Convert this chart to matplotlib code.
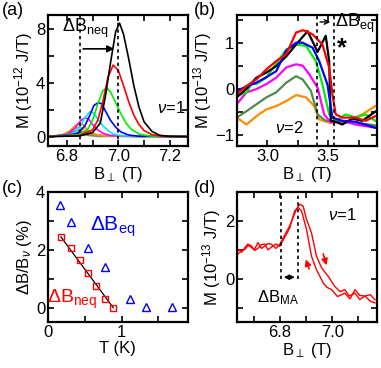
import numpy as np
import matplotlib
matplotlib.use("Agg")
import matplotlib.pyplot as plt
from matplotlib.ticker import MultipleLocator

plt.rcParams['font.family'] = ['Liberation Sans', 'DejaVu Sans']
plt.rcParams['mathtext.fontset'] = 'custom'
plt.rcParams['mathtext.rm'] = 'Liberation Sans'
plt.rcParams['mathtext.it'] = 'Liberation Sans:italic'
plt.rcParams['font.size'] = 12

# ---------- panel (a) data: M vs B, nu=1, several temperatures
a_black_B = [6.73, 6.85, 6.90, 6.93, 6.95, 6.97, 6.99, 7.005, 7.02, 7.04, 7.06, 7.08, 7.10, 7.13, 7.16, 7.20, 7.27]
a_black_M = [0.0, 0.05, 0.3, 1.0, 3.0, 5.5, 7.8, 8.4, 7.6, 5.8, 3.8, 2.2, 1.1, 0.4, 0.1, 0.02, 0.0]
a_red_B = [6.73, 6.85, 6.90, 6.92, 6.94, 6.96, 6.98, 7.00, 7.02, 7.04, 7.06, 7.08, 7.10, 7.13, 7.17, 7.27]
a_red_M = [0.0, 0.1, 0.5, 1.2, 2.6, 4.4, 5.3, 4.9, 3.8, 2.6, 1.6, 0.9, 0.45, 0.15, 0.03, 0.0]
a_green_B = [6.73, 6.85, 6.88, 6.90, 6.92, 6.94, 6.955, 6.97, 6.99, 7.01, 7.03, 7.05, 7.08, 7.12, 7.27]
a_green_M = [0.0, 0.15, 0.5, 1.2, 2.4, 3.4, 3.6, 3.3, 2.5, 1.7, 1.0, 0.55, 0.2, 0.05, 0.0]
a_blue_B = [6.73, 6.84, 6.87, 6.89, 6.905, 6.92, 6.935, 6.95, 6.97, 6.99, 7.01, 7.04, 7.08, 7.27]
a_blue_M = [0.0, 0.2, 0.8, 1.6, 2.3, 2.5, 2.45, 1.9, 1.2, 0.7, 0.35, 0.12, 0.03, 0.0]
a_cyan_B = [6.73, 6.82, 6.85, 6.87, 6.89, 6.905, 6.92, 6.94, 6.96, 6.98, 7.01, 7.27]
a_cyan_M = [0.0, 0.2, 0.7, 1.4, 1.85, 1.75, 1.3, 0.8, 0.45, 0.2, 0.07, 0.0]
a_mag_B = [6.73, 6.80, 6.83, 6.855, 6.87, 6.885, 6.90, 6.92, 6.94, 6.97, 7.27]
a_mag_M = [0.0, 0.15, 0.6, 1.2, 1.4, 1.3, 0.9, 0.5, 0.25, 0.08, 0.0]
a_orange_B = [6.73, 6.78, 6.81, 6.835, 6.85, 6.865, 6.88, 6.90, 6.93, 7.27]
a_orange_M = [0.0, 0.1, 0.4, 0.85, 1.0, 0.85, 0.5, 0.25, 0.08, 0.0]
a_khaki_B = [6.73, 6.78, 6.81, 6.83, 6.845, 6.86, 6.88, 6.91, 6.95, 7.27]
a_khaki_M = [0.0, 0.1, 0.35, 0.6, 0.7, 0.6, 0.35, 0.15, 0.05, 0.0]
a_olive_B = [6.73, 6.78, 6.81, 6.835, 6.85, 6.87, 6.90, 6.95, 7.27]
a_olive_M = [0.0, 0.1, 0.3, 0.45, 0.45, 0.3, 0.15, 0.05, 0.0]
a_grey_B = [6.73, 6.76, 6.79, 6.82, 6.84, 6.86, 6.89, 6.93, 7.00, 7.08, 7.15, 7.22, 7.27]
a_grey_M = [0.02, 0.05, 0.1, 0.22, 0.28, 0.2, 0.1, 0.03, 0.05, 0.0, 0.04, 0.01, 0.03]

# ---------- panel (b) data: M vs B, nu=2
b_red_B = [2.747, 2.829, 2.91, 2.992, 3.073, 3.155, 3.236, 3.29, 3.318, 3.372, 3.453, 3.508, 3.535, 3.562, 3.616, 3.725, 3.807, 3.888]
b_red_M = [-0.12, 0.06, 0.2, 0.42, 0.6, 0.75, 1.22, 1.27, 1.25, 1.18, 0.96, 0.46, -0.12, -0.56, -0.63, -0.63, -0.7, -0.6]
b_black_B = [2.747, 2.829, 2.91, 2.992, 3.073, 3.155, 3.236, 3.331, 3.413, 3.48, 3.508, 3.521, 3.562, 3.616, 3.70, 3.78, 3.888]
b_black_M = [-0.19, 0.0, 0.24, 0.35, 0.49, 0.7, 0.96, 1.25, 0.8, 1.15, 0.6, -0.7, -0.72, -0.78, -0.65, -0.7, -0.5]
b_blue_B = [2.747, 2.829, 2.91, 2.992, 3.073, 3.155, 3.236, 3.29, 3.372, 3.426, 3.494, 3.535, 3.616, 3.725, 3.888]
b_blue_M = [-0.05, 0.05, 0.13, 0.25, 0.38, 0.83, 1.0, 1.0, 0.89, 0.6, 0.09, -0.63, -0.7, -0.72, -0.85]
b_green_B = [2.747, 2.829, 2.869, 2.91, 2.992, 3.073, 3.155, 3.236, 3.318, 3.399, 3.453, 3.508, 3.562, 3.644, 3.725, 3.807, 3.888]
b_green_M = [-0.16, -0.08, 0.1, 0.1, 0.24, 0.55, 0.85, 0.96, 0.93, 0.6, 0.09, -0.56, -0.7, -0.56, -0.63, -0.56, -0.7]
b_mag_B = [2.747, 2.829, 2.91, 2.992, 3.073, 3.155, 3.236, 3.29, 3.345, 3.413, 3.467, 3.521, 3.616, 3.725, 3.888]
b_mag_M = [-0.34, -0.08, -0.01, 0.1, 0.24, 0.46, 0.53, 0.5, 0.31, 0.02, -0.56, -0.74, -0.7, -0.78, -0.85]
b_dgreen_B = [2.747, 2.829, 2.91, 2.992, 3.073, 3.155, 3.236, 3.29, 3.358, 3.413, 3.48, 3.562, 3.725, 3.888]
b_dgreen_M = [-0.63, -0.49, -0.34, -0.19, -0.08, 0.13, 0.27, 0.2, -0.05, -0.56, -0.7, -0.7, -0.74, -0.8]
b_orange_B = [2.747, 2.829, 2.91, 2.992, 3.073, 3.155, 3.236, 3.318, 3.386, 3.426, 3.508, 3.644, 3.70, 3.78, 3.888]
b_orange_M = [-0.63, -0.78, -0.6, -0.45, -0.38, -0.27, -0.14, -0.19, -0.38, -0.67, -0.74, -0.74, -0.65, -0.56, -0.38]

# ---------- panel (c) data: shift vs temperature
c_neq_T = [0.175, 0.318, 0.43, 0.54, 0.654, 0.77, 0.885]
c_neq_d = [2.45, 2.06, 1.64, 1.19, 0.74, 0.30, 0.0]
c_eq_T = [0.16, 0.31, 0.54, 0.77, 1.12, 1.33, 1.68]
c_eq_d = [3.57, 2.97, 2.08, 1.40, 0.31, 0.02, 0.02]

# ---------- panel (d) data: up and down sweeps, nu=1
d_up_B = [6.628, 6.640, 6.647, 6.655, 6.666, 6.678, 6.69, 6.703, 6.717, 6.730, 6.743, 6.756, 6.769, 6.785, 6.80,
          6.838, 6.864, 6.876, 6.889, 6.902, 6.921, 6.940, 6.960, 6.985, 7.01, 7.03, 7.048, 7.065, 7.087, 7.105, 7.125, 7.145, 7.163]
d_up_M = [0.84, 0.95, 1.01, 0.92, 1.06, 1.2, 1.15, 1.0, 1.25, 1.05, 1.13, 1.22, 1.19, 1.05, 1.19,
          1.83, 2.41, 2.58, 2.52, 2.06, 1.59, 0.78, 0.37, 0.08, -0.27, -0.45, -0.38, -0.6, -0.5, -0.72, -0.6, -0.55, -0.73]
d_dn_B = [6.628, 6.645, 6.666, 6.68, 6.69, 6.705, 6.717, 6.73, 6.743, 6.755, 6.769, 6.785, 6.80, 6.838, 6.857, 6.870, 6.883,
          6.902, 6.921, 6.940, 6.966, 6.98, 6.998, 7.02, 7.048, 7.068, 7.087, 7.105, 7.125, 7.145, 7.163]
d_dn_M = [0.72, 0.9, 1.01, 1.15, 1.1, 0.98, 1.05, 1.18, 1.2, 1.0, 1.1, 1.2, 1.12, 1.75, 2.35, 2.47, 2.35,
          1.71, 0.78, 0.31, -0.15, -0.3, -0.38, -0.62, -0.5, -0.7, -0.38, -0.58, -0.6, -0.78, -0.84]

fig = plt.figure(figsize=(3.81, 3.68), dpi=100)
ax_a = fig.add_axes([0.126, 0.603, 0.367, 0.356])
ax_b = fig.add_axes([0.622, 0.603, 0.367, 0.356])
ax_c = fig.add_axes([0.126, 0.125, 0.367, 0.353])
ax_d = fig.add_axes([0.622, 0.125, 0.367, 0.353])

for ax in (ax_a, ax_b, ax_c, ax_d):
    for s in ax.spines.values():
        s.set_linewidth(1.6)
    ax.tick_params(which='both', direction='in', top=True, right=True,
                   length=4, width=1.2, labelsize=12, pad=2)

# (a)
lw = 1.2
ax_a.plot(a_grey_B, a_grey_M, color='#6f8f6f', lw=1.6)
ax_a.plot(a_olive_B, a_olive_M, color='#7a9040', lw=lw)
ax_a.plot(a_khaki_B, a_khaki_M, color='#c8a040', lw=lw)
ax_a.plot(a_orange_B, a_orange_M, color='#ff8c00', lw=lw)
ax_a.plot(a_mag_B, a_mag_M, color='#ff00ff', lw=lw)
ax_a.plot(a_cyan_B, a_cyan_M, color='#00e5ff', lw=lw)
ax_a.plot(a_blue_B, a_blue_M, color='#0000ff', lw=lw)
ax_a.plot(a_green_B, a_green_M, color='#00ee00', lw=lw)
ax_a.plot(a_red_B, a_red_M, color='#ff0000', lw=lw)
ax_a.plot(a_black_B, a_black_M, color='black', lw=lw)
ax_a.axvline(6.853, color='black', ls=(0, (2, 2)), lw=1.2)
ax_a.axvline(7.0, color='black', ls=(0, (2, 2)), lw=1.2)
ax_a.annotate('', xy=(6.995, 6.5), xytext=(6.853, 6.5),
              arrowprops=dict(arrowstyle='-|>', color='black', lw=1.2, mutation_scale=10))
ax_a.text(6.78, 8.0, r'$\Delta$B$_{\rm neq}$', fontsize=13, va='center')
ax_a.text(7.15, 2.1, r'$\nu$=1', fontsize=12, va='center')
ax_a.set_xlim(6.727, 7.27)
ax_a.set_ylim(-0.7, 9.0)
ax_a.xaxis.set_major_locator(MultipleLocator(0.2))
ax_a.xaxis.set_minor_locator(MultipleLocator(0.1))
ax_a.yaxis.set_major_locator(MultipleLocator(4))
ax_a.yaxis.set_minor_locator(MultipleLocator(2))
ax_a.set_xlabel(r'B$_{\perp}$ (T)', fontsize=12, labelpad=1)
ax_a.set_ylabel(r'M (10$^{-12}$ J/T)', fontsize=12, labelpad=1)

# (b)
lwb = 1.6
ax_b.plot(b_orange_B, b_orange_M, color='#ff8c00', lw=lwb)
ax_b.plot(b_dgreen_B, b_dgreen_M, color='#4f8a4f', lw=lwb)
ax_b.plot(b_mag_B, b_mag_M, color='#ff00ff', lw=lwb)
ax_b.plot(b_green_B, b_green_M, color='#00ee00', lw=lwb)
ax_b.plot(b_black_B, b_black_M, color='black', lw=lwb)
ax_b.plot(b_blue_B, b_blue_M, color='#0000ff', lw=lwb)
ax_b.plot(b_red_B, b_red_M, color='#ff0000', lw=lwb)
ax_b.axvline(3.41, color='black', ls=(0, (2, 2)), lw=1.2)
ax_b.axvline(3.545, color='black', ls=(0, (2, 2)), lw=1.2)
ax_b.annotate('', xy=(3.54, 1.45), xytext=(3.41, 1.45),
              arrowprops=dict(arrowstyle='->', color='black', lw=1.0, mutation_scale=8))
ax_b.text(3.555, 1.42, r'$\Delta$B$_{\rm eq}$', fontsize=13, va='center')
ax_b.text(3.61, 0.88, '*', fontsize=18, va='center', ha='center', fontweight='bold')
ax_b.text(3.06, -0.85, r'$\nu$=2', fontsize=12, va='center')
ax_b.set_xlim(2.75, 3.9)
ax_b.set_ylim(-1.25, 1.6)
ax_b.xaxis.set_major_locator(MultipleLocator(0.5))
ax_b.xaxis.set_minor_locator(MultipleLocator(0.25))
ax_b.yaxis.set_major_locator(MultipleLocator(1))
ax_b.yaxis.set_minor_locator(MultipleLocator(0.5))
ax_b.set_xlabel(r'B$_{\perp}$ (T)', fontsize=12, labelpad=1)
ax_b.set_ylabel(r'M (10$^{-13}$ J/T)', fontsize=12, labelpad=1)

# (c)
ax_c.plot([c_neq_T[0], c_neq_T[-1]], [c_neq_d[0], c_neq_d[-1]], color='black', lw=0.9)
ax_c.plot(c_neq_T, c_neq_d, ls='none', marker='s', ms=5, mfc='none', mec='#ff0000', mew=1.0)
ax_c.plot(c_eq_T, c_eq_d, ls='none', marker='^', ms=6, mfc='none', mec='#0000ff', mew=1.0)
ax_c.text(0.57, 2.8, r'$\Delta$B$_{\rm eq}$', color='#0000ff', fontsize=15, va='center')
ax_c.text(-0.02, 0.3, r'$\Delta$B$_{\rm neq}$', color='#ff0000', fontsize=14, va='center')
ax_c.set_xlim(0, 1.9)
ax_c.set_ylim(-0.5, 4.0)
ax_c.xaxis.set_major_locator(MultipleLocator(1))
ax_c.xaxis.set_minor_locator(MultipleLocator(0.5))
ax_c.yaxis.set_major_locator(MultipleLocator(2))
ax_c.yaxis.set_minor_locator(MultipleLocator(1))
ax_c.set_xlabel('T (K)', fontsize=12, labelpad=1)
ax_c.set_ylabel(r'$\Delta$B/B$_{\nu}$ (%)', fontsize=12, labelpad=1)

# (d)
ax_d.plot(d_dn_B, d_dn_M, color='#ff0000', lw=1.0)
ax_d.plot(d_up_B, d_up_M, color='#ff0000', lw=1.0)
ax_d.plot([6.803, 6.803], [0, 3.1], color='black', ls=(0, (2, 2)), lw=1.2)
ax_d.plot([6.87, 6.87], [0, 3.1], color='black', ls=(0, (2, 2)), lw=1.2)
ax_d.annotate('', xy=(6.868, 0.05), xytext=(6.805, 0.05),
              arrowprops=dict(arrowstyle='<|-|>', color='black', lw=1.0, mutation_scale=7))
ax_d.annotate('', xy=(6.981, 0.37), xytext=(6.963, 0.95),
              arrowprops=dict(arrowstyle='-|>', color='#ff0000', lw=1.2, mutation_scale=9))
ax_d.annotate('', xy=(6.896, 0.76), xytext=(6.915, 0.25),
              arrowprops=dict(arrowstyle='-|>', color='#ff0000', lw=1.2, mutation_scale=9))
ax_d.text(6.715, -0.66, r'$\Delta$B$_{\rm MA}$', fontsize=12, va='center')
ax_d.text(6.985, 2.2, r'$\nu$=1', fontsize=12, va='center')
ax_d.set_xlim(6.637, 7.17)
ax_d.set_ylim(-1.5, 3.0)
ax_d.xaxis.set_major_locator(MultipleLocator(0.2))
ax_d.xaxis.set_minor_locator(MultipleLocator(0.1))
ax_d.yaxis.set_major_locator(MultipleLocator(2))
ax_d.yaxis.set_minor_locator(MultipleLocator(1))
ax_d.set_xlabel(r'B$_{\perp}$ (T)', fontsize=12, labelpad=1)
ax_d.set_ylabel(r'M (10$^{-13}$ J/T)', fontsize=12, labelpad=1)

# panel letters
fig.text(0.005, 0.995, '(a)', fontsize=13, va='top')
fig.text(0.508, 0.995, '(b)', fontsize=13, va='top')
fig.text(0.005, 0.51, '(c)', fontsize=13, va='top')
fig.text(0.508, 0.51, '(d)', fontsize=13, va='top')

fig.savefig('out.png', dpi=100)
